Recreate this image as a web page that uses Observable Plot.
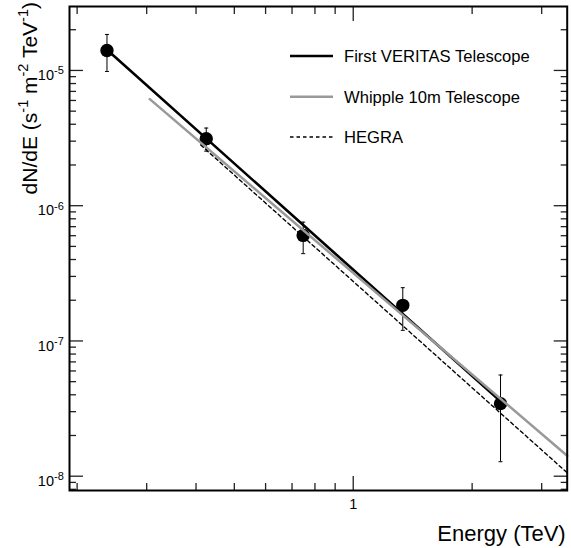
<!DOCTYPE html>
<html><head><meta charset="utf-8">
<script src="https://cdn.jsdelivr.net/npm/d3@7"></script>
<script src="https://cdn.jsdelivr.net/npm/@observablehq/plot@0.6"></script>
<style>
body{margin:0;background:#fff;}
#chart svg{display:block;}
</style>
</head><body><div id="chart"></div>
<script>
// Data points (TeV, s^-1 m^-2 TeV^-1)
const energy   = [0.238, 0.4245, 0.747, 1.335, 2.36];
const flux     = [1.405e-5, 3.13e-6, 6.03e-7, 1.833e-7, 3.44e-8];
const fluxHigh = [1.845e-5, 3.75e-6, 7.56e-7, 2.476e-7, 5.60e-8];
const fluxLow  = [9.83e-6, 2.53e-6, 4.42e-7, 1.198e-7, 1.28e-8];

// Power-law fits (end points)
const fitNames       = ["First VERITAS Telescope", "Whipple 10m Telescope", "HEGRA"];
const fitEnergyStart = [0.238, 0.3055, 0.411];
const fitEnergyEnd   = [2.36, 3.481, 3.481];
const fitFluxStart   = [1.422e-5, 6.14e-6, 2.81e-6];
const fitFluxEnd     = [3.58e-8, 1.415e-8, 1.06e-8];

// Ticks
const xMajorTicks = [1];
const xMajorLabels = ["1"];
const xMinorTicks = [0.2, 0.3, 0.4, 0.5, 0.6, 0.7, 0.8, 0.9, 2, 3];
const yMajorTicks = [1e-8, 1e-7, 1e-6, 1e-5];
const yMajorExponents = ["-8", "-7", "-6", "-5"];
const yMinorTicks = [8e-9, 9e-9,
  2e-8, 3e-8, 4e-8, 5e-8, 6e-8, 7e-8, 8e-8, 9e-8,
  2e-7, 3e-7, 4e-7, 5e-7, 6e-7, 7e-7, 8e-7, 9e-7,
  2e-6, 3e-6, 4e-6, 5e-6, 6e-6, 7e-6, 8e-6, 9e-6,
  2e-5];

const points = energy.map((e, i) => ({e, f: flux[i], hi: fluxHigh[i], lo: fluxLow[i]}));
const fits = fitNames.map((name, i) => [
  {name, e: fitEnergyStart[i], f: fitFluxStart[i]},
  {name, e: fitEnergyEnd[i], f: fitFluxEnd[i]}
]);

const capSymbol = {draw(ctx) { ctx.moveTo(-2, 0); ctx.lineTo(2, 0); }};
const font = "'Liberation Sans', Arial, Helvetica, sans-serif";
const blank = () => "";

const tickOpts = {label: null, tickFormat: blank, strokeWidth: 1.3, stroke: "#222"};

const chart = Plot.plot({
  width: 571, height: 548,
  marginLeft: 69, marginRight: 4.3, marginTop: 6, marginBottom: 58,
  x: {type: "log", domain: [0.1913, 3.481], axis: null},
  y: {type: "log", domain: [7.84e-9, 2.97e-5], axis: null},
  style: {fontFamily: font, background: "white", color: "black"},
  marks: [
    // ticks (inward, on all four sides)
    Plot.axisX(xMinorTicks, {...tickOpts, anchor: "bottom", tickSize: -7}),
    Plot.axisX(xMajorTicks, {...tickOpts, anchor: "bottom", tickSize: -14}),
    Plot.axisX(xMinorTicks, {...tickOpts, anchor: "top", tickSize: -7}),
    Plot.axisX(xMajorTicks, {...tickOpts, anchor: "top", tickSize: -14}),
    Plot.axisY(yMinorTicks, {...tickOpts, anchor: "left", tickSize: -7}),
    Plot.axisY(yMajorTicks, {...tickOpts, anchor: "left", tickSize: -14}),
    Plot.axisY(yMinorTicks, {...tickOpts, anchor: "right", tickSize: -7}),
    Plot.axisY(yMajorTicks, {...tickOpts, anchor: "right", tickSize: -14}),
    // tick labels
    Plot.text(xMajorTicks, {x: d => d, frameAnchor: "bottom", text: (d, i) => xMajorLabels[i], dy: 18, fontSize: 14.5}),
    Plot.text(yMajorTicks, {y: d => d, frameAnchor: "left", text: () => "10", textAnchor: "end", dx: -15.5, dy: 5, fontSize: 14.5}),
    Plot.text(yMajorTicks, {y: d => d, frameAnchor: "left", text: (d, i) => yMajorExponents[i], textAnchor: "start", dx: -15.5, dy: 0.5, fontSize: 11}),
    // x title
    Plot.text(["Energy (TeV)"], {frameAnchor: "bottom-right", textAnchor: "end", lineAnchor: "bottom", dx: -1.5, dy: 50, fontSize: 22}),
    // data points
    Plot.ruleX(points, {x: "e", y1: "lo", y2: "hi", stroke: "black", strokeWidth: 1}),
    Plot.dot(points, {x: "e", y: "hi", symbol: capSymbol, r: 3, stroke: "black", strokeWidth: 1}),
    Plot.dot(points, {x: "e", y: "lo", symbol: capSymbol, r: 3, stroke: "black", strokeWidth: 1}),
    Plot.dot(points, {x: "e", y: "f", r: 6.7, fill: "black", stroke: "none"}),
    // fits
    Plot.line(fits[0], {x: "e", y: "f", stroke: "black", strokeWidth: 2.6}),
    Plot.line(fits[1], {x: "e", y: "f", stroke: "#999999", strokeWidth: 2.5}),
    Plot.line(fits[2], {x: "e", y: "f", stroke: "black", strokeWidth: 1.4, strokeDasharray: "3.5,3"}),
    Plot.frame({stroke: "black", strokeWidth: 2})
  ]
});

document.getElementById("chart").append(chart);

const svg = d3.select(chart);

// y-axis title with superscripts
const yt = svg.append("text")
  .attr("transform", "translate(37,2) rotate(-90)")
  .attr("text-anchor", "end")
  .attr("font-family", font)
  .attr("font-size", 21)
  .attr("fill", "black");
const ytParts = [["dN/dE (s", false], ["-1", true], [" m", false], ["-2", true], [" TeV", false], ["-1", true], [")", false]];
ytParts.forEach(([t, sup], i) => {
  const ts = yt.append("tspan").text(t);
  if (sup) ts.attr("font-size", 14.5).attr("dy", -9);
  else if (i > 0) ts.attr("dy", 9);
});

// legend
const legendStyles = [
  {stroke: "black", width: 2.6, dash: null},
  {stroke: "#999999", width: 2.5, dash: null},
  {stroke: "black", width: 1.4, dash: "3.5,3"}
];
const legendY = [56, 96.7, 137];
const lg = svg.append("g").attr("font-family", font).attr("font-size", 16.6).attr("text-anchor", "start");
fitNames.forEach((name, i) => {
  lg.append("line").attr("x1", 290).attr("x2", 333).attr("y1", legendY[i]).attr("y2", legendY[i])
    .attr("stroke", legendStyles[i].stroke).attr("stroke-width", legendStyles[i].width)
    .attr("stroke-dasharray", legendStyles[i].dash);
  lg.append("text").attr("x", 344).attr("y", legendY[i]).attr("dy", "0.36em").attr("fill", "black").text(name);
});
</script>
</body></html>
